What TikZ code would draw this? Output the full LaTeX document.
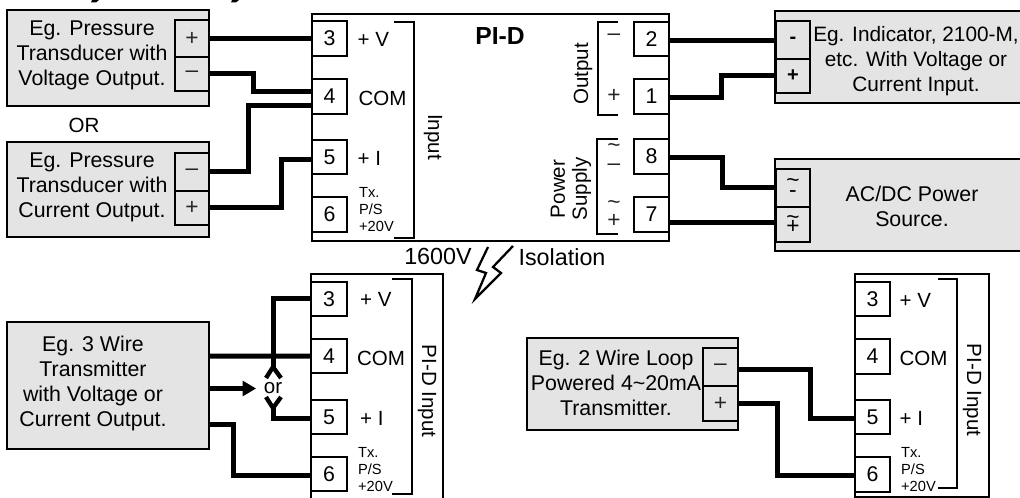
\documentclass[tikz,border=0pt]{standalone}
\usepackage{fontspec}
\setmainfont{Liberation Sans}
\usetikzlibrary{arrows.meta}
\definecolor{boxgray}{HTML}{E4E4E4}

\begin{document}
\begin{tikzpicture}[x=0.75pt, y=-0.75pt, line width=1.7pt]
	\tikzstyle {txt}    = [inner sep=0pt, font=\fontsize{15.4}{18.75}\selectfont, align=center]
	\tikzstyle {dtxt}   = [inner sep=0pt, font=\fontsize{16}{18.75}\selectfont, align=center]
	\tikzstyle {small}  = [inner sep=0pt, font=\fontsize{11}{12.75}\selectfont, align=left, anchor=west]
	\tikzstyle {sign}   = [inner sep=0pt, font=\fontsize{17}{15}\selectfont, align=center, text=black!85]
	\tikzstyle {device} = [shape=rectangle, draw=black, fill=boxgray, inner sep=0pt, outer sep=0pt]
	\tikzstyle {panel}  = [shape=rectangle, draw=black, fill=white, inner sep=0pt, outer sep=0pt]
	\tikzstyle {term}   = [shape=rectangle, draw=black, fill=white, inner sep=0pt, outer sep=0pt, minimum width=26.5pt, minimum height=26pt, font=\fontsize{16}{18}\selectfont]
	\tikzstyle {pin}    = [shape=rectangle, draw=black, fill=boxgray, inner sep=0pt, outer sep=0pt, minimum width=26pt, text=black!85, font=\fontsize{17}{15}\selectfont, align=center]
	\tikzstyle {wire}   = [line width=3.75pt, line join=miter]
	\useasboundingbox (0,0) rectangle (1020,498);
	\clip (0,0) rectangle (1020,498);

	% cut off line above the picture
	\fill (92,0) -- (99,0) -- (96,2.5) -- (91,2.5) -- cycle;
	\fill (232,0) -- (239,0) -- (236,2.5) -- (231,2.5) -- cycle;

	% devices on the left
	\node[device, minimum width=151.5pt, minimum height=72pt] (Dev-1) at (108,58) {};
	\node[pin, minimum height=28pt] (Dev-1-plus) at (192,38.5) {+};
	\node[pin, minimum height=26pt] (Dev-1-minus) at (192,74) {--};
	\node[dtxt] (Dev-1-text) at (92,55) {Eg. Pressure\\Transducer with\\Voltage Output.};
	\node[txt] (Or-text) at (84,125) {OR};
	\node[device, minimum width=151.5pt, minimum height=71pt] (Dev-2) at (108,189.5) {};
	\node[pin, minimum height=28pt] (Dev-2-minus) at (192,172) {--};
	\node[pin, minimum height=26pt] (Dev-2-plus) at (192,208) {+};
	\node[dtxt] (Dev-2-text) at (92,187) {Eg. Pressure\\Transducer with\\Current Output.};

	% PI-D
	\node[panel, minimum width=267.5pt, minimum height=170pt] (Main) at (490.5,127.5) {};
	\node[term] (Main-3) at (329.5,38.5) {3};
	\node[term] (Main-4) at (329.5,96.5) {4};
	\node[term] (Main-5) at (329.5,157) {5};
	\node[term] (Main-6) at (329.5,214.5) {6};
	\node[txt, anchor=west] (Main-v) at (356.5,39) {+ V};
	\node[txt, anchor=west] (Main-com) at (357.5,98) {COM};
	\node[txt, anchor=west] (Main-i) at (356.5,158) {+ I};
	\node[small] (Main-tx) at (358,210) {Tx.\\P/S\\+20V};
	\draw (394,22) -- (414,22) -- (414,238) -- (394,238);
	\node[txt, rotate=-90] (Main-input) at (433,137) {Input};
	\node[txt, font=\fontsize{18.5}{20}\selectfont\bfseries] (Main-name) at (500,36) {PI-D};

	\node[term] (Main-2) at (651.5,39) {2};
	\node[term] (Main-1) at (651.5,96.5) {1};
	\node[term] (Main-8) at (651.5,156.5) {8};
	\node[term] (Main-7) at (651.5,214.5) {7};
	\draw (618,22) -- (598,22) -- (598,115) -- (618,115);
	\node[txt, rotate=90] (Main-output) at (583,74) {Output};
	\node[sign] (Main-minus) at (614,37) {--};
	\node[sign] (Main-plus) at (614,96) {+};
	\draw (618,139) -- (597,139) -- (597,234) -- (618,234);
	\node[txt, rotate=90, font=\fontsize{15.4}{16.5}\selectfont] (Main-power) at (571,189) {Power\\Supply};
	\node[sign] (Main-acn) at (614,157) {\textasciitilde\\[-1.5pt]--};
	\node[sign] (Main-acp) at (614,214) {\textasciitilde\\[-1.5pt]+};

	% devices on the right
	\node[device, minimum width=187pt, minimum height=69pt] (Ind) at (900,57) {};
	\node[pin, minimum height=28.5pt, font=\fontsize{15}{15}\selectfont\bfseries, text=black] (Ind-minus) at (793,40) {-};
	\node[pin, minimum height=25.5pt, font=\fontsize{15}{15}\selectfont\bfseries, text=black] (Ind-plus) at (793,76) {+};
	\node[txt, font=\fontsize{15.6}{18.75}\selectfont] (Ind-text) at (916,61) {Eg. Indicator, 2100-M,\\etc. With Voltage or\\Current Input.};
	\node[device, minimum width=187pt, minimum height=69pt] (Ac) at (900,205) {};
	\node[pin, minimum height=28.5pt, text=black] (Ac-minus) at (793,188) {\textasciitilde\\[-8pt]-};
	\node[pin, minimum height=26pt, text=black] (Ac-plus) at (793,224.5) {\textasciitilde\\[-8pt]+};
	\node[dtxt] (Ac-text) at (912,206) {AC/DC Power\\Source.};

	% wires of the top part
	\draw[wire] (Dev-1-plus.east) -- (Main-3.west);
	\draw[wire] (Dev-1-minus.east) -- ++(44,0) |- ([yshift=3.4pt]Main-4.west);
	\draw[wire] (Dev-2-minus.east) -- ++(39,0) |- ([yshift=-6.4pt]Main-4.west);
	\draw[wire] (Dev-2-plus.east) -- ++(72,0) |- ([yshift=-2.2pt]Main-5.west);
	\draw[wire] ([yshift=-1.5pt]Main-2.east) -- ([yshift=-0.75pt]Ind-minus.west);
	\draw[wire] ([yshift=-1.1pt]Main-1.east) -- ++(52,0) |- (Ind-plus.west);
	\draw[wire] ([yshift=-1.1pt]Main-8.east) -- ++(53,0) |- (Ac-minus.west);
	\draw[wire] ([yshift=-6pt]Main-7.east) -- ([yshift=1.5pt]Ac-plus.west);

	% isolation
	\node[txt, font=\fontsize{17.5}{20}\selectfont] (Iso-volt) at (438,256) {1600V};
	\node[txt, font=\fontsize{17.5}{20}\selectfont] (Iso-text) at (562,257) {Isolation};
	\draw[line join=miter] (488,247) -- (477,270) -- (486,273) -- (475,299) -- (501,273) -- (493,267) -- (513,246);

	% 3 wire transmitter
	\node[device, minimum width=151.5pt, minimum height=95pt] (Dev-3) at (108,385.5) {};
	\node[dtxt] (Dev-3-text) at (93,383) {Eg. 3 Wire\\Transmitter\\with Voltage or\\Current Output.};
	\node[panel, minimum width=99pt, minimum height=180pt] (Low-a) at (377,394) {};
	\node[term] (Low-a-3) at (329,299) {3};
	\node[term] (Low-a-4) at (329,356) {4};
	\node[term] (Low-a-5) at (329,417) {5};
	\node[term] (Low-a-6) at (329,474) {6};
	\node[txt, anchor=west] (Low-a-v) at (359,299) {+ V};
	\node[txt, anchor=west] (Low-a-com) at (356,358) {COM};
	\node[txt, anchor=west] (Low-a-i) at (359,418) {+ I};
	\node[small] (Low-a-tx) at (357,470) {Tx.\\P/S\\+20V};
	\draw (392,279) -- (412,279) -- (412,494) -- (392,494);
	\node[txt, rotate=-90] (Low-a-input) at (427,391) {PI-D Input};

	\node[txt, inner sep=5pt] (Or) at (273,388.5) {or};
	\coordinate (Fork-up) at (273,367);
	\coordinate (Fork-dn) at (273,408);
	\draw[wire] ([yshift=22pt]Dev-3.east) -- (Low-a-4.west);
	\draw[wire] (Low-a-3.west) -| (Fork-up);
	\draw[wire, line width=3.25pt] (266,378) -- (Fork-up) -- (281,378);
	\draw[wire, -{Triangle[length=10pt, width=11pt]}] ([yshift=-2.25pt]Dev-3.east) -- (Or.west);
	\draw[wire] ([yshift=-1.5pt]Low-a-5.west) -| (Fork-dn);
	\draw[wire, line width=3.25pt] (266,397) -- (Fork-dn) -- (281,397);
	\draw[wire] ([yshift=-29.6pt]Dev-3.east) -- ++(24,0) |- ([yshift=-1pt]Low-a-6.west);

	% 2 wire transmitter
	\node[device, minimum width=158pt, minimum height=69pt] (Dev-4) at (632.5,384) {};
	\node[pin, minimum height=28.5pt] (Dev-4-minus) at (720.5,367) {--};
	\node[pin, minimum height=26pt] (Dev-4-plus) at (720.5,403.5) {+};
	\node[dtxt] (Dev-4-text) at (616,383) {Eg. 2 Wire Loop\\Powered 4\textasciitilde 20mA\\Transmitter.};
	\node[panel, minimum width=100pt, minimum height=167pt] (Low-b) at (922,385.5) {};
	\node[term] (Low-b-3) at (872.5,299) {3};
	\node[term] (Low-b-4) at (872.5,356.5) {4};
	\node[term] (Low-b-5) at (872.5,417) {5};
	\node[term] (Low-b-6) at (872.5,474.5) {6};
	\node[txt, anchor=west] (Low-b-v) at (898.5,300) {+ V};
	\node[txt, anchor=west] (Low-b-com) at (898.5,358) {COM};
	\node[txt, anchor=west] (Low-b-i) at (898.5,418) {+ I};
	\node[small] (Low-b-tx) at (900,470) {Tx.\\P/S\\+20V};
	\draw (938,279) -- (957,279) -- (957,488) -- (938,488);
	\node[txt, rotate=-90] (Low-b-input) at (972,390) {PI-D Input};

	\draw[wire] ([yshift=-2pt]Dev-4-minus.east) -- ++(73,0) |- ([yshift=-1.5pt]Low-b-5.west);
	\draw[wire] (Dev-4-plus.east) -- ++(40,0) |- ([yshift=-1pt]Low-b-6.west);
\end{tikzpicture}
\end{document}
